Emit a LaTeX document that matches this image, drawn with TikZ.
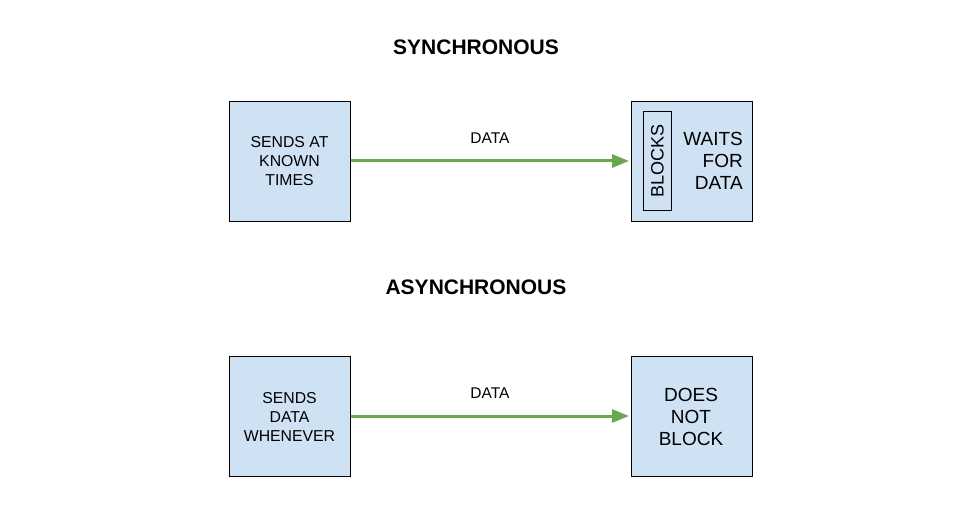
\documentclass[tikz,border=0pt]{standalone}
\usepackage{fontspec}
\setmainfont{Liberation Sans}
\usetikzlibrary{arrows.meta}
\definecolor{boxfill}{HTML}{CFE2F3}
\definecolor{arrowgreen}{HTML}{6AA84F}
\begin{document}
\begin{tikzpicture}[x=1pt,y=-1pt,
  box/.style={draw=black, line width=0.8pt, fill=boxfill, minimum width=121pt, minimum height=120pt, inner sep=0pt, anchor=north west},
  smalltxt/.style={font=\fontsize{15.8}{19}\selectfont, align=center},
  bigtxt/.style={font=\fontsize{19}{22}\selectfont},
  title/.style={font=\fontsize{21}{24}\selectfont\bfseries},
  lbl/.style={font=\fontsize{15.5}{17}\selectfont},
  flow/.style={draw=arrowgreen, line width=3pt, -{Triangle[length=17pt,width=13pt]}, shorten >=2pt}]
\useasboundingbox (0,0) rectangle (953,526);
\node[title] (t1) at (476,47) {SYNCHRONOUS};
\node[title] (t2) at (476,287) {ASYNCHRONOUS};
% sync
\node[box] (s1) at (229,101) {};
\node[smalltxt] (s1t) at (289.5,161) {SENDS AT\\KNOWN\\TIMES};
\node[box] (s2) at (631,101) {};
\node[draw=black, line width=0.8pt, minimum width=28pt, minimum height=99pt, inner sep=0pt, anchor=north west] (blk) at (643,111) {};
\node[font=\fontsize{18}{20}\selectfont, rotate=90] (blkt) at (657.5,161) {BLOCKS};
\node[bigtxt, align=right, anchor=east, inner sep=0pt] (s2t) at (743,161) {WAITS\\FOR\\DATA};
\draw[flow] (s1.east |- 0,161) -- (s2.west |- 0,161);
\node[lbl] (d1) at (490,138) {DATA};
% async
\node[box] (a1) at (229,356) {};
\node[smalltxt] (a1t) at (289.5,416.5) {SENDS\\DATA\\WHENEVER};
\node[box] (a2) at (631,356) {};
\node[bigtxt, align=center] (a2t) at (691,417) {DOES\\NOT\\BLOCK};
\draw[flow] (a1.east |- 0,416) -- (a2.west |- 0,416);
\node[lbl] (d2) at (490,393) {DATA};
\end{tikzpicture}
\end{document}
